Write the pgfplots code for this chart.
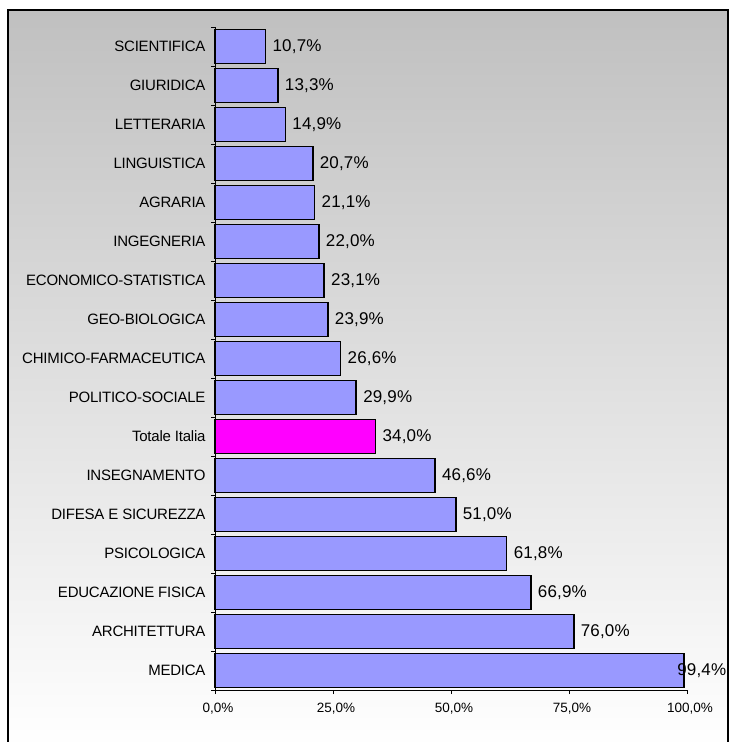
\documentclass[border=0pt]{standalone}
\usepackage{pgfplots}
\pgfplotsset{compat=1.18}
\usepackage{pgfplotstable}
\usepackage{fontspec}
\setmainfont{Liberation Sans}
\newfontfamily\valfont[LetterSpace=1]{Liberation Sans}
\newfontfamily\catfont[LetterSpace=-1.5]{Liberation Sans}
\definecolor{barblue}{HTML}{9999FF}
\definecolor{barmag}{HTML}{FF00FF}
\definecolor{bgtop}{HTML}{C0C0C0}

\pgfplotstableread{
y x
1 76.0
2 66.9
3 61.8
4 51.0
5 46.6
7 29.9
8 26.6
9 23.9
10 23.1
11 22.0
12 21.1
13 20.7
14 14.9
15 13.3
16 10.7
}\blueTable

\pgfplotstableread{
y x
6 34.0
}\totTable

\pgfplotstableread{
y x
0 99.4
}\medTable

\begin{document}
\begin{tikzpicture}[x=1pt,y=1pt]
\useasboundingbox (0,0) rectangle (729,742);
\shade[top color=bgtop, bottom color=white] (8,-5) rectangle (728,732);
\draw[line width=1.4pt] (8,-5) rectangle (728,732);
\begin{axis}[
  at={(215pt,52pt)}, anchor=south west,
  scale only axis, width=472pt, height=663pt,
  xmin=0, xmax=100, ymin=-0.5, ymax=16.5,
  /pgf/number format/assume math mode=true,
  xbar, bar width=34pt, bar shift=0pt,
  axis x line*=bottom, axis y line*=left,
  axis line style={black, line width=0.8pt, -},
  tick align=outside, major tick length=4pt, minor tick length=4pt,
  tick style={black, line width=0.8pt},
  xtick={0,25,50,75,100},
  xticklabel={\pgfmathprintnumber[fixed,fixed zerofill,precision=1,use comma,assume math mode=true]{\tick}\%},
  xticklabel style={font=\fontsize{13.5}{13.5}\selectfont, yshift=-6pt, xshift=3pt},
  ytick={0,...,16},
  yticklabels={MEDICA,ARCHITETTURA,EDUCAZIONE FISICA,PSICOLOGICA,DIFESA E SICUREZZA,INSEGNAMENTO,Totale Italia,POLITICO-SOCIALE,CHIMICO-FARMACEUTICA,GEO-BIOLOGICA,ECONOMICO-STATISTICA,INGEGNERIA,AGRARIA,LINGUISTICA,LETTERARIA,GIURIDICA,SCIENTIFICA},
  yticklabel style={font=\catfont\fontsize{15}{15}\selectfont, xshift=-2pt},
  major y tick style={draw=none},
  minor ytick={-0.5,0.5,...,16.5},
  clip=false,
  point meta=x,
  nodes near coords={\pgfmathprintnumber[fixed,fixed zerofill,precision=1,use comma,assume math mode=true]{\pgfplotspointmeta}\%},
  nodes near coords style={font=\valfont\fontsize{17}{17}\selectfont, anchor=west, text=black},
]
\addplot[draw=black, line width=1.6pt, fill=barblue, nodes near coords style={xshift=3pt}] table[x=x,y=y] {\blueTable};
\addplot[draw=black, line width=1.6pt, fill=barmag, nodes near coords style={xshift=3pt}] table[x=x,y=y] {\totTable};
\addplot[draw=black, line width=1.6pt, fill=barblue, nodes near coords style={xshift=-11pt}] table[x=x,y=y] {\medTable};
\end{axis}
\end{tikzpicture}
\end{document}
